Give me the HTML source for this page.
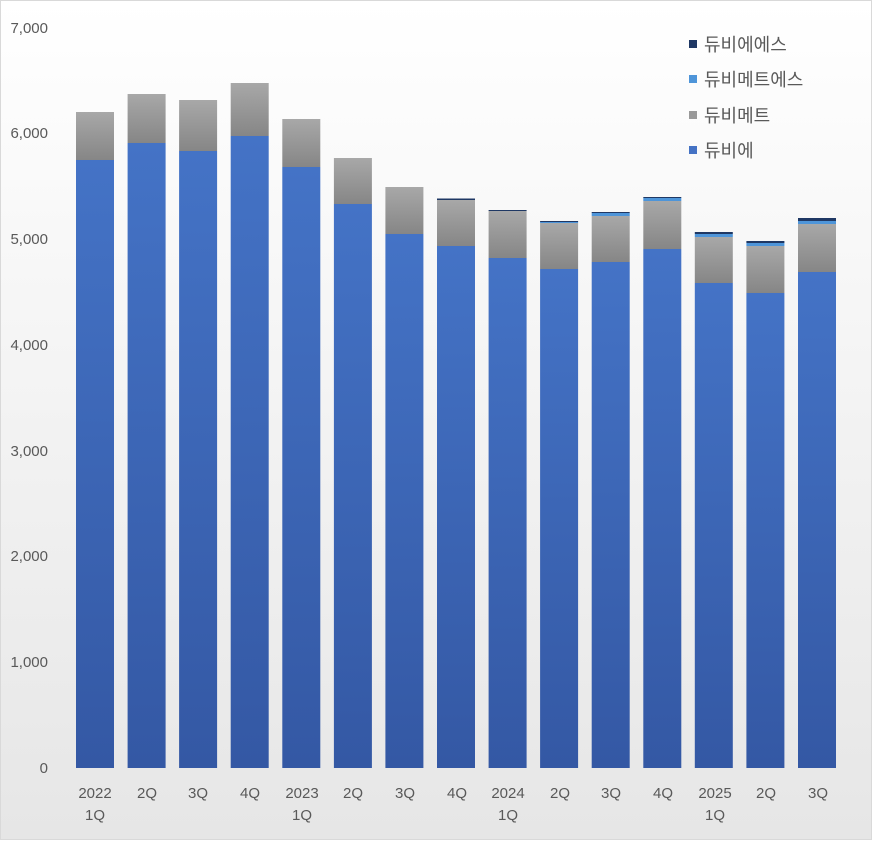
<!DOCTYPE html>
<html><head><meta charset="utf-8"><style>
body{margin:0;background:#fff}
svg text{font-family:"Liberation Sans","Noto Sans CJK KR",sans-serif;fill:#595959}
</style></head><body>
<svg width="872" height="840" xmlns="http://www.w3.org/2000/svg">
<defs>
<linearGradient id="bg" x1="0" y1="0" x2="0" y2="1"><stop offset="0" stop-color="#ffffff"/><stop offset="1" stop-color="#e6e6e6"/></linearGradient>
<linearGradient id="bl" x1="0" y1="0" x2="0" y2="1"><stop offset="0" stop-color="#4473c6"/><stop offset="1" stop-color="#3458a4"/></linearGradient>
<linearGradient id="gr" x1="0" y1="0" x2="0" y2="1"><stop offset="0" stop-color="#a8a8a8"/><stop offset="1" stop-color="#868686"/></linearGradient>
</defs>
<rect x="0.5" y="0.5" width="871" height="839" fill="url(#bg)" stroke="#d9d9d9"/>
<g font-size="15" text-anchor="end">
<text x="48" y="773">0</text><text x="48" y="667">1,000</text><text x="48" y="561">2,000</text><text x="48" y="456">3,000</text><text x="48" y="350">4,000</text><text x="48" y="244">5,000</text><text x="48" y="138">6,000</text><text x="48" y="33">7,000</text>
</g>
<g>
<rect x="76" y="160" width="38" height="608" fill="url(#bl)"/><rect x="76" y="112" width="38" height="48" fill="url(#gr)"/>
<rect x="127.6" y="143" width="38" height="625" fill="url(#bl)"/><rect x="127.6" y="94" width="38" height="49" fill="url(#gr)"/>
<rect x="179.1" y="151" width="38" height="617" fill="url(#bl)"/><rect x="179.1" y="100" width="38" height="51" fill="url(#gr)"/>
<rect x="230.7" y="136" width="38" height="632" fill="url(#bl)"/><rect x="230.7" y="83" width="38" height="53" fill="url(#gr)"/>
<rect x="282.3" y="167" width="38" height="601" fill="url(#bl)"/><rect x="282.3" y="119" width="38" height="48" fill="url(#gr)"/>
<rect x="333.9" y="204" width="38" height="564" fill="url(#bl)"/><rect x="333.9" y="158" width="38" height="46" fill="url(#gr)"/>
<rect x="385.4" y="234" width="38" height="534" fill="url(#bl)"/><rect x="385.4" y="187" width="38" height="47" fill="url(#gr)"/>
<rect x="437" y="246" width="38" height="522" fill="url(#bl)"/><rect x="437" y="200" width="38" height="46" fill="url(#gr)"/><rect x="437" y="198.5" width="38" height="1.5" fill="#1f3864"/>
<rect x="488.6" y="258" width="38" height="510" fill="url(#bl)"/><rect x="488.6" y="211" width="38" height="47" fill="url(#gr)"/><rect x="488.6" y="210" width="38" height="1" fill="#1f3864"/>
<rect x="540.1" y="269" width="38" height="499" fill="url(#bl)"/><rect x="540.1" y="223" width="38" height="46" fill="url(#gr)"/><rect x="540.1" y="222" width="38" height="1" fill="#4e95d9"/><rect x="540.1" y="221" width="38" height="1" fill="#1f3864"/>
<rect x="591.7" y="262" width="38" height="506" fill="url(#bl)"/><rect x="591.7" y="216" width="38" height="46" fill="url(#gr)"/><rect x="591.7" y="213" width="38" height="3" fill="#4e95d9"/><rect x="591.7" y="212" width="38" height="1" fill="#1f3864"/>
<rect x="643.3" y="249" width="38" height="519" fill="url(#bl)"/><rect x="643.3" y="201" width="38" height="48" fill="url(#gr)"/><rect x="643.3" y="198" width="38" height="3" fill="#4e95d9"/><rect x="643.3" y="197" width="38" height="1" fill="#1f3864"/>
<rect x="694.8" y="283" width="38" height="485" fill="url(#bl)"/><rect x="694.8" y="237" width="38" height="46" fill="url(#gr)"/><rect x="694.8" y="234" width="38" height="3" fill="#4e95d9"/><rect x="694.8" y="232" width="38" height="2" fill="#1f3864"/>
<rect x="746.4" y="293" width="38" height="475" fill="url(#bl)"/><rect x="746.4" y="246" width="38" height="47" fill="url(#gr)"/><rect x="746.4" y="243" width="38" height="3" fill="#4e95d9"/><rect x="746.4" y="241" width="38" height="2" fill="#1f3864"/>
<rect x="798" y="272" width="38" height="496" fill="url(#bl)"/><rect x="798" y="224" width="38" height="48" fill="url(#gr)"/><rect x="798" y="221" width="38" height="3" fill="#4e95d9"/><rect x="798" y="218" width="38" height="3" fill="#1f3864"/>
</g>
<g font-size="15" text-anchor="middle">
<text x="95" y="798">2022</text><text x="95" y="820">1Q</text>
<text x="147" y="798">2Q</text><text x="198" y="798">3Q</text><text x="250" y="798">4Q</text>
<text x="302" y="798">2023</text><text x="302" y="820">1Q</text>
<text x="353" y="798">2Q</text><text x="405" y="798">3Q</text><text x="457" y="798">4Q</text>
<text x="508" y="798">2024</text><text x="508" y="820">1Q</text>
<text x="560" y="798">2Q</text><text x="611" y="798">3Q</text><text x="663" y="798">4Q</text>
<text x="715" y="798">2025</text><text x="715" y="820">1Q</text>
<text x="766" y="798">2Q</text><text x="818" y="798">3Q</text>
</g>
<g font-size="18">
<rect x="689" y="40" width="8" height="8" fill="#1f3864"/><text x="704" y="51">듀비에에스</text>
<rect x="689" y="75" width="8" height="8" fill="#4e95d9"/><text x="704" y="86">듀비메트에스</text>
<rect x="689" y="111" width="8" height="8" fill="#999"/><text x="704" y="122">듀비메트</text>
<rect x="689" y="146" width="8" height="8" fill="#4472c4"/><text x="704" y="157">듀비에</text>
</g>
</svg>
</body></html>
